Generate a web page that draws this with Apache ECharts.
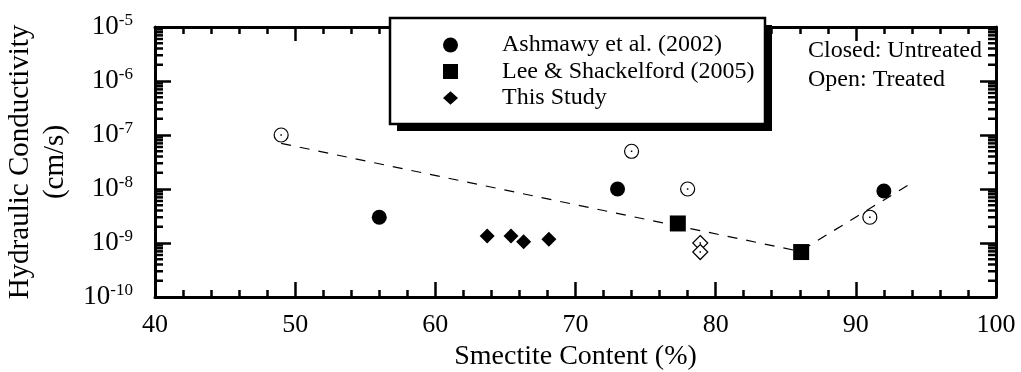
<!DOCTYPE html>
<html>
<head>
<meta charset="utf-8">
<script src="https://cdn.jsdelivr.net/npm/echarts@6/dist/echarts.min.js"></script>
<style>
html,body{margin:0;padding:0;background:#fff;}
#chart{width:1021px;height:372px;}
</style>
</head>
<body>
<div id="chart"></div>
<script>
// ---- data (x = smectite content %, y = hydraulic conductivity cm/s) ----
const ashmawyClosed = [[56, 3.0e-9], [73, 1.0e-8], [92, 9.2e-9]];
const ashmawyOpen   = [[49, 1.0e-7], [74, 5.0e-8], [78, 1.0e-8], [91, 3.0e-9]];
const leeClosed     = [[77.3, 2.3e-9], [86.1, 6.8e-10]];
const studyClosed   = [[63.7, 1.35e-9], [65.4, 1.35e-9], [66.3, 1.05e-9], [68.1, 1.17e-9]];
const studyOpen     = [[78.9, 1.0e-9], [78.9, 6.8e-10]];
const trendLine     = [[49, 7.0e-8], [86, 7.0e-10], [94, 1.3e-8]];

const xTicks = [40, 50, 60, 70, 80, 90, 100];
const yDecades = [-10, -9, -8, -7, -6, -5];
const yMinorMultipliers = [2, 3, 4, 5, 6, 7, 8, 9];

const legendNames = ['Ashmawy et al. (2002)', 'Lee & Shackelford (2005)', 'This Study'];
const noteLines = ['Closed: Untreated', 'Open: Treated'];

// minor tick values for the log axis
const yMinorTicks = [];
yDecades.slice(0, -1).forEach(d => yMinorMultipliers.forEach(m => yMinorTicks.push([40, m * Math.pow(10, d)])));

const FONT = '"Liberation Serif", "Times New Roman", serif';
const SQUARE = 'path://M0,0L1,0L1,1L0,1Z';
const DIAMOND = 'path://M0.5,0L1,0.45L0.5,0.9L0,0.45Z';
const chart = echarts.init(document.getElementById('chart'), null, {renderer: 'canvas'});

const axisLine = {show: true, onZero: false, lineStyle: {color: '#000', width: 3}};
const majorTick = (len) => ({show: true, inside: true, length: len, lineStyle: {color: '#000', width: 2.5}});

const option = {
  backgroundColor: '#fff',
  animation: false,
  grid: {left: 155, right: 25, top: 27, bottom: 75, outerBoundsMode: 'none', containLabel: false},
  xAxis: [
    {
      type: 'value', position: 'bottom', min: xTicks[0], max: xTicks[xTicks.length - 1], interval: 10,
      axisLine: axisLine, axisTick: majorTick(15),
      minorTick: {show: true, splitNumber: 5, length: 7, lineStyle: {color: '#000', width: 2.5}},
      splitLine: {show: false},
      axisLabel: {fontFamily: FONT, fontSize: 26, color: '#000', margin: 15},
      name: 'Smectite Content (%)', nameLocation: 'middle', nameGap: 46,
      nameTextStyle: {fontFamily: FONT, fontSize: 28, color: '#000'}
    },
    {
      type: 'value', position: 'top', min: xTicks[0], max: xTicks[xTicks.length - 1], interval: 10,
      axisLine: axisLine, axisTick: majorTick(14),
      minorTick: {show: true, splitNumber: 5, length: 7, lineStyle: {color: '#000', width: 2.5}},
      splitLine: {show: false}, axisLabel: {show: false}
    }
  ],
  yAxis: [
    {
      type: 'log', logBase: 10, position: 'left', min: 1e-10, max: 1e-5,
      axisLine: axisLine, axisTick: majorTick(16), splitLine: {show: false},
      axisLabel: {
        margin: 22, color: '#000',
        formatter: v => '{b|10}{s|' + Math.round(Math.log10(v)) + '}',
        rich: {
          b: {fontFamily: FONT, fontSize: 27, color: '#000'},
          s: {fontFamily: FONT, fontSize: 17, color: '#000', verticalAlign: 'top', padding: [0, 0, 12, 0]}
        }
      },
      name: 'Hydraulic Conductivity\n(cm/s)', nameLocation: 'middle', nameGap: 75,
      nameTextStyle: {fontFamily: FONT, fontSize: 29, color: '#000', lineHeight: 35}
    },
    {
      type: 'log', logBase: 10, position: 'right', min: 1e-10, max: 1e-5,
      axisLine: axisLine, axisTick: majorTick(16), splitLine: {show: false}, axisLabel: {show: false}
    }
  ],
  legend: {
    data: [
      {name: legendNames[0], icon: 'circle'},
      {name: legendNames[1], icon: SQUARE},
      {name: legendNames[2], icon: DIAMOND}
    ],
    orient: 'vertical', left: 443, top: 18,
    padding: [15, 0, 13, 0],
    itemWidth: 15, itemHeight: 15, itemGap: 2.5, symbolKeepAspect: true,
    backgroundColor: 'transparent', borderWidth: 0,
    selectedMode: false, z: 10,
    textStyle: {fontFamily: FONT, fontSize: 24, color: '#000', lineHeight: 24, padding: [0, 0, 0, 39]}
  },
  graphic: [
    {type: 'rect', z: 1, shape: {x: 397, y: 25, width: 375, height: 106}, style: {fill: '#000'}},
    {type: 'rect', z: 2, shape: {x: 390, y: 18, width: 375, height: 106}, style: {fill: '#fff', stroke: '#000', lineWidth: 2.5}},
    {type: 'text', left: 808, top: 39, style: {text: noteLines[0], font: '24px ' + FONT, fill: '#000'}},
    {type: 'text', left: 808, top: 68, style: {text: noteLines[1], font: '24px ' + FONT, fill: '#000'}}
  ],
  series: [
    {
      name: 'minor ticks', type: 'custom', xAxisIndex: 0, yAxisIndex: 0, silent: true, clip: false,
      data: yMinorTicks,
      renderItem: (params, api) => {
        const v = api.value(1);
        const p = api.coord([xTicks[0], v]);
        const q = api.coord([xTicks[xTicks.length - 1], v]);
        return {type: 'group', children: [
          {type: 'line', shape: {x1: p[0], y1: p[1], x2: p[0] + 8, y2: p[1]}, style: {stroke: '#000', lineWidth: 2.5}},
          {type: 'line', shape: {x1: q[0] - 8, y1: q[1], x2: q[0], y2: q[1]}, style: {stroke: '#000', lineWidth: 2.5}}
        ]};
      }
    },
    {
      name: 'trend', type: 'line', data: trendLine, symbol: 'none', silent: true,
      lineStyle: {color: '#000', width: 1.2, type: [10, 9]}
    },
    {
      name: legendNames[0], type: 'scatter', data: ashmawyClosed, symbol: 'circle', symbolSize: 15,
      itemStyle: {color: '#000', opacity: 1}
    },
    {
      name: 'Ashmawy treated', type: 'scatter', data: ashmawyOpen, symbol: 'circle', symbolSize: 14,
      itemStyle: {color: '#fff', borderColor: '#000', borderWidth: 1.2, opacity: 1}
    },
    {
      name: legendNames[1], type: 'scatter', data: leeClosed, symbol: 'rect', symbolSize: 16,
      itemStyle: {color: '#000', opacity: 1}
    },
    {
      name: legendNames[2], type: 'scatter', data: studyClosed, symbol: 'diamond', symbolSize: 15,
      itemStyle: {color: '#000', opacity: 1}
    },
    {
      name: 'Study treated', type: 'scatter', data: studyOpen, symbol: 'diamond', symbolSize: 15,
      itemStyle: {color: '#fff', borderColor: '#000', borderWidth: 1.2, opacity: 1}
    },
    {
      name: 'centre dots', type: 'scatter', data: ashmawyOpen.concat(studyOpen), symbol: 'rect', symbolSize: 1.5,
      silent: true, itemStyle: {color: '#000', opacity: 1}, z: 5
    }
  ]
};
chart.setOption(option);
</script>
</body>
</html>
